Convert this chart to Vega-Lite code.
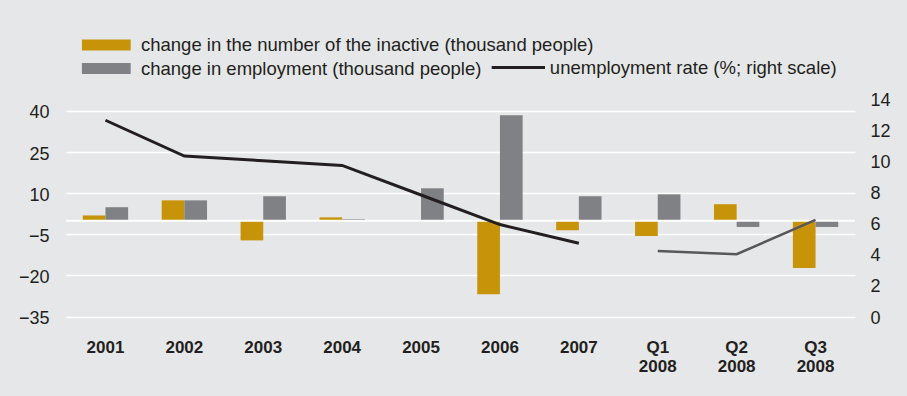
{
  "$schema": "https://vega.github.io/schema/vega-lite/v6.json",
  "width": 789,
  "height": 218,
  "autosize": {"type": "none"},
  "padding": {"left": 66, "top": 100, "right": 52, "bottom": 78},
  "background": "#e6e7e8",
  "config": {
    "view": {"stroke": null},
    "font": "Liberation Sans"
  },
  "datasets": {
    "bars": [
      {"period": "2001", "series": "change in the number of the inactive (thousand people)", "value": 1.9},
      {"period": "2001", "series": "change in employment (thousand people)", "value": 4.9},
      {"period": "2002", "series": "change in the number of the inactive (thousand people)", "value": 7.4},
      {"period": "2002", "series": "change in employment (thousand people)", "value": 7.4},
      {"period": "2003", "series": "change in the number of the inactive (thousand people)", "value": -7.2},
      {"period": "2003", "series": "change in employment (thousand people)", "value": 8.9},
      {"period": "2004", "series": "change in the number of the inactive (thousand people)", "value": 1.2},
      {"period": "2004", "series": "change in employment (thousand people)", "value": 0.5},
      {"period": "2005", "series": "change in the number of the inactive (thousand people)", "value": 0},
      {"period": "2005", "series": "change in employment (thousand people)", "value": 11.8},
      {"period": "2006", "series": "change in the number of the inactive (thousand people)", "value": -26.8},
      {"period": "2006", "series": "change in employment (thousand people)", "value": 38.4},
      {"period": "2007", "series": "change in the number of the inactive (thousand people)", "value": -3.5},
      {"period": "2007", "series": "change in employment (thousand people)", "value": 8.9},
      {"period": "Q1 2008", "series": "change in the number of the inactive (thousand people)", "value": -5.6},
      {"period": "Q1 2008", "series": "change in employment (thousand people)", "value": 9.6},
      {"period": "Q2 2008", "series": "change in the number of the inactive (thousand people)", "value": 6.0},
      {"period": "Q2 2008", "series": "change in employment (thousand people)", "value": -2.3},
      {"period": "Q3 2008", "series": "change in the number of the inactive (thousand people)", "value": -17.3},
      {"period": "Q3 2008", "series": "change in employment (thousand people)", "value": -2.3}
    ],
    "rates": [
      {"period": "2001", "rate": 12.7, "segment": "annual", "series": "unemployment rate (%; right scale)"},
      {"period": "2002", "rate": 10.4, "segment": "annual", "series": "unemployment rate (%; right scale)"},
      {"period": "2003", "rate": 10.1, "segment": "annual", "series": "unemployment rate (%; right scale)"},
      {"period": "2004", "rate": 9.8, "segment": "annual", "series": "unemployment rate (%; right scale)"},
      {"period": "2005", "rate": 7.9, "segment": "annual", "series": "unemployment rate (%; right scale)"},
      {"period": "2006", "rate": 6.0, "segment": "annual", "series": "unemployment rate (%; right scale)"},
      {"period": "2007", "rate": 4.8, "segment": "annual", "series": "unemployment rate (%; right scale)"},
      {"period": "Q1 2008", "rate": 4.3, "segment": "quarterly", "series": "unemployment rate (%; right scale)"},
      {"period": "Q2 2008", "rate": 4.1, "segment": "quarterly", "series": "unemployment rate (%; right scale)"},
      {"period": "Q3 2008", "rate": 6.3, "segment": "quarterly", "series": "unemployment rate (%; right scale)"}
    ]
  },
  "layer": [
    {
      "data": {"name": "bars"},
      "layer": [
        {
          "mark": {"type": "bar"},
          "encoding": {
            "x": {
              "field": "period",
              "type": "nominal",
              "title": null,
              "scale": {
                "domain": ["2001", "2002", "2003", "2004", "2005", "2006", "2007", "Q1 2008", "Q2 2008", "Q3 2008"],
                "paddingInner": 0.425,
                "paddingOuter": 0.2125
              },
              "axis": {
                "orient": "bottom",
                "domain": false,
                "ticks": false,
                "tickSize": 0,
                "grid": false,
                "labelAngle": 0,
                "labelFontSize": 17,
                "labelFontWeight": "bold",
                "labelColor": "#231f20",
                "labelPadding": 21,
                "labelLineHeight": 19,
                "labelExpr": "split(datum.label, ' ')"
              }
            },
            "xOffset": {
              "field": "series",
              "type": "nominal",
              "scale": {
                "domain": ["change in the number of the inactive (thousand people)", "change in employment (thousand people)"],
                "paddingInner": 0,
                "paddingOuter": 0
              }
            },
            "y": {
              "field": "value",
              "type": "quantitative",
              "title": null,
              "scale": {"domain": [-35.5, 44], "nice": false, "zero": false},
              "axis": {
                "orient": "left",
                "values": [-35, -20, -5, 10, 25, 40],
                "domain": false,
                "ticks": false,
                "tickSize": 0,
                "grid": true,
                "gridColor": "#ffffff",
                "gridWidth": 1.5,
                "labelFontSize": 18,
                "labelColor": "#231f20",
                "labelPadding": 17,
                "labelOffset": 2
              }
            },
            "color": {
              "field": "series",
              "type": "nominal",
              "scale": {
                "domain": ["change in the number of the inactive (thousand people)", "change in employment (thousand people)"],
                "range": ["#c69309", "#808184"]
              },
              "legend": {
                "title": null,
                "orient": "none",
                "legendX": 15.8,
                "legendY": -67.4,
                "direction": "vertical",
                "padding": 0,
                "rowPadding": 1.5,
                "symbolType": "M-2,-0.45H2V0.45H-2Z",
                "symbolSize": 595,
                "symbolStrokeWidth": 0,
                "symbolOffset": 12,
                "labelOffset": 22.2,
                "labelFontSize": 18.5,
                "labelColor": "#231f20",
                "labelLimit": 0
              }
            }
          }
        },
        {
          "data": {"values": [{"zero": 0}]},
          "mark": {"type": "rule", "color": "#ffffff", "strokeWidth": 2},
          "encoding": {"y": {"field": "zero", "type": "quantitative"}}
        }
      ]
    },
    {
      "data": {"name": "rates"},
      "layer": [
        {
          "transform": [{"filter": "datum.segment === 'annual'"}],
          "mark": {"type": "line", "strokeWidth": 3},
          "encoding": {
            "x": {
              "field": "period",
              "type": "nominal",
              "scale": {"domain": ["2001", "2002", "2003", "2004", "2005", "2006", "2007", "Q1 2008", "Q2 2008", "Q3 2008"]}
            },
            "y": {
              "field": "rate",
              "type": "quantitative",
              "title": null,
              "scale": {"domain": [0, 14], "nice": false},
              "axis": {
                "orient": "right",
                "values": [0, 2, 4, 6, 8, 10, 12, 14],
                "domain": false,
                "ticks": false,
                "tickSize": 0,
                "grid": false,
                "labelFontSize": 18,
                "labelColor": "#231f20",
                "labelPadding": 15
              }
            },
            "stroke": {
              "field": "series",
              "type": "nominal",
              "scale": {"domain": ["unemployment rate (%; right scale)"], "range": ["#231f20"]},
              "legend": {
                "title": null,
                "orient": "none",
                "legendX": 423.85,
                "legendY": -61,
                "padding": 0,
                "symbolType": "stroke",
                "symbolSize": 2841,
                "symbolStrokeWidth": 3,
                "symbolOffset": 0,
                "labelOffset": 3,
                "labelFontSize": 18.5,
                "labelColor": "#231f20",
                "labelLimit": 0
              }
            }
          }
        },
        {
          "transform": [{"filter": "datum.segment === 'quarterly'"}],
          "mark": {"type": "line", "strokeWidth": 2.5, "stroke": "#58585a"},
          "encoding": {
            "x": {
              "field": "period",
              "type": "nominal",
              "scale": {"domain": ["2001", "2002", "2003", "2004", "2005", "2006", "2007", "Q1 2008", "Q2 2008", "Q3 2008"]}
            },
            "y": {
              "field": "rate",
              "type": "quantitative",
              "title": null,
              "scale": {"domain": [0, 14], "nice": false},
              "axis": {
                "orient": "right",
                "values": [0, 2, 4, 6, 8, 10, 12, 14],
                "domain": false,
                "ticks": false,
                "tickSize": 0,
                "grid": false,
                "labelFontSize": 18,
                "labelColor": "#231f20",
                "labelPadding": 15
              }
            }
          }
        }
      ]
    }
  ],
  "resolve": {"scale": {"y": "independent"}}
}
